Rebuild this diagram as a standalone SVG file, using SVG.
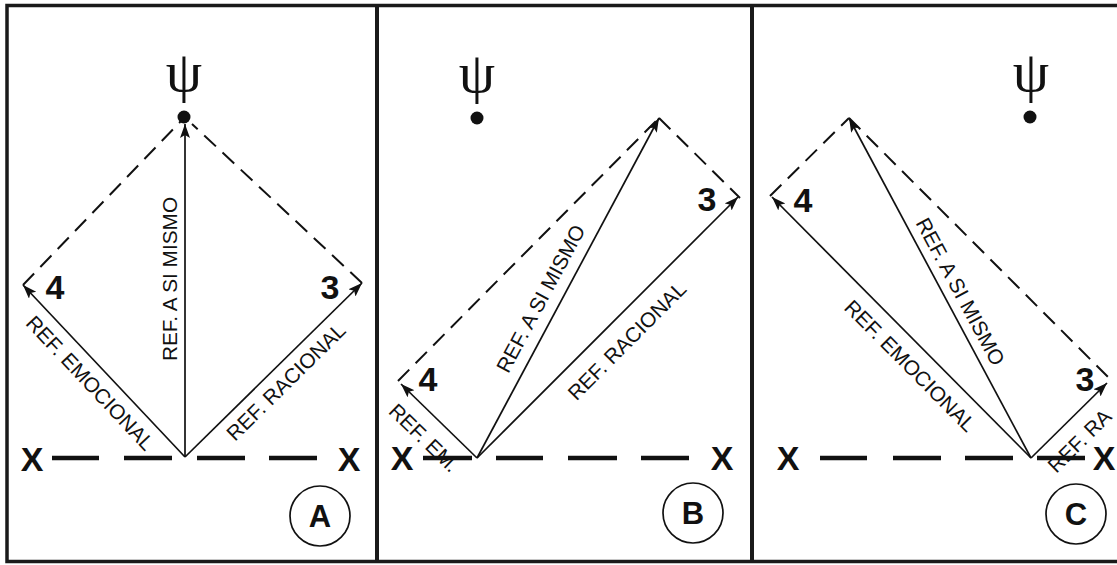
<svg xmlns="http://www.w3.org/2000/svg" width="1117" height="565" viewBox="0 0 1117 565">
<defs>
<marker id="ah" markerUnits="userSpaceOnUse" markerWidth="16" markerHeight="12" refX="14" refY="5" orient="auto">
<path d="M0,0 L14,5 L0,10 L3,5 z" fill="#111"/>
</marker>
</defs>
<style>
.frame{fill:none;stroke:#1a1a1a;stroke-width:3.5}
.div{stroke:#1a1a1a;stroke-width:4}
.arr{stroke:#111;stroke-width:1.7;fill:none;marker-end:url(#ah)}
.dsh{stroke:#111;stroke-width:2;fill:none;stroke-dasharray:16 9}
.axis{stroke:#111;stroke-width:4.5}
.lbl{font-family:"Liberation Sans",Arial,sans-serif;font-size:20.8px;fill:#111;text-anchor:middle}
.num{font-family:"Liberation Sans",Arial,sans-serif;font-size:34px;font-weight:bold;fill:#111;text-anchor:middle}
.x{font-family:"Liberation Sans",Arial,sans-serif;font-size:34px;font-weight:bold;fill:#111;text-anchor:middle}
.psi{font-family:"Liberation Serif","Times New Roman",serif;font-size:58px;fill:#111;text-anchor:middle}
.circ{fill:none;stroke:#111;stroke-width:1.7}
.cl{font-family:"Liberation Sans",Arial,sans-serif;font-size:31px;font-weight:bold;fill:#111;text-anchor:middle}
</style>
<rect width="1117" height="565" fill="#fff"/>
<g id="frame">
<rect class="frame" x="7" y="5.5" width="1115" height="556"/>
<line class="div" x1="377" y1="5" x2="377" y2="562"/>
<line class="div" x1="752" y1="5" x2="752" y2="562"/>
</g>
<g id="connectors">
<!-- panel A -->
<line class="arr" x1="185" y1="457" x2="185" y2="124"/>
<line class="arr" x1="185" y1="457" x2="23" y2="285"/>
<line class="arr" x1="185" y1="457" x2="362" y2="283"/>
<line class="dsh" x1="23" y1="285" x2="181" y2="121"/>
<line class="dsh" x1="362" y1="283" x2="192" y2="124"/>
<!-- panel B -->
<line class="arr" x1="477" y1="458" x2="659" y2="118"/>
<line class="arr" x1="477" y1="458" x2="401" y2="384"/>
<line class="arr" x1="477" y1="458" x2="738" y2="197"/>
<line class="dsh" x1="398" y1="381" x2="659" y2="118"/>
<line class="dsh" x1="659" y1="118" x2="740" y2="198"/>
<!-- panel C -->
<line class="arr" x1="1031" y1="458" x2="849" y2="118"/>
<line class="arr" x1="1031" y1="458" x2="772" y2="197"/>
<line class="arr" x1="1031" y1="458" x2="1107" y2="383"/>
<line class="dsh" x1="770" y1="196" x2="849" y2="118"/>
<line class="dsh" x1="849" y1="118" x2="1112" y2="381"/>
</g>
<g id="panelA">
<text class="psi" x="184" y="91">ψ</text>
<circle cx="184" cy="117" r="6.5" fill="#111"/>
<line class="axis" x1="52" y1="458" x2="99" y2="458"/>
<line class="axis" x1="124" y1="458" x2="172" y2="458"/>
<line class="axis" x1="197" y1="458" x2="245" y2="458"/>
<line class="axis" x1="269" y1="458" x2="317" y2="458"/>
<text class="x" x="32" y="471">X</text>
<text class="x" x="349" y="471">X</text>
<text class="num" x="55" y="299">4</text>
<text class="num" x="330" y="299">3</text>
<text class="lbl" transform="translate(177,279) rotate(-90)">REF. A SI MISMO</text>
<text class="lbl" transform="translate(85,388) rotate(46.7)">REF. EMOCIONAL</text>
<text class="lbl" transform="translate(291,387) rotate(-44.5)">REF. RACIONAL</text>
<circle class="circ" cx="320" cy="516" r="30"/>
<text class="cl" x="320" y="527">A</text>
</g>
<g id="panelB">
<text class="psi" x="477" y="92">ψ</text>
<circle cx="477" cy="118" r="6.5" fill="#111"/>
<line class="axis" x1="423" y1="458" x2="472" y2="458"/>
<line class="axis" x1="496" y1="458" x2="543" y2="458"/>
<line class="axis" x1="568" y1="458" x2="617" y2="458"/>
<line class="axis" x1="641" y1="458" x2="689" y2="458"/>
<text class="x" x="402" y="470">X</text>
<text class="x" x="722" y="470">X</text>
<text class="num" x="428" y="391">4</text>
<text class="num" x="707" y="211">3</text>
<text class="lbl" transform="translate(419,443) rotate(44.2)">REF. EM.</text>
<text class="lbl" transform="translate(547,302) rotate(-61.8)">REF. A SI MISMO</text>
<text class="lbl" transform="translate(632,346) rotate(-45)">REF. RACIONAL</text>
<circle class="circ" cx="693" cy="513" r="30"/>
<text class="cl" x="693" y="524">B</text>
</g>
<g id="panelC">
<text class="psi" x="1031" y="91">ψ</text>
<circle cx="1030" cy="117" r="6.5" fill="#111"/>
<line class="axis" x1="820" y1="458" x2="867" y2="458"/>
<line class="axis" x1="893" y1="458" x2="941" y2="458"/>
<line class="axis" x1="965" y1="458" x2="1013" y2="458"/>
<line class="axis" x1="1037" y1="458" x2="1085" y2="458"/>
<text class="x" x="788" y="470">X</text>
<text class="x" x="1104" y="470">X</text>
<text class="num" x="803" y="212">4</text>
<text class="num" x="1085" y="391">3</text>
<text class="lbl" transform="translate(905,371) rotate(45.2)">REF. EMOCIONAL</text>
<text class="lbl" transform="translate(954,295) rotate(61.8)">REF. A SI MISMO</text>
<text class="lbl" text-anchor="end" style="text-anchor:end" transform="translate(1113,418) rotate(-44.6)">REF. RA</text>
<circle class="circ" cx="1076" cy="514" r="30"/>
<text class="cl" x="1076" y="525">C</text>
</g>
</svg>
